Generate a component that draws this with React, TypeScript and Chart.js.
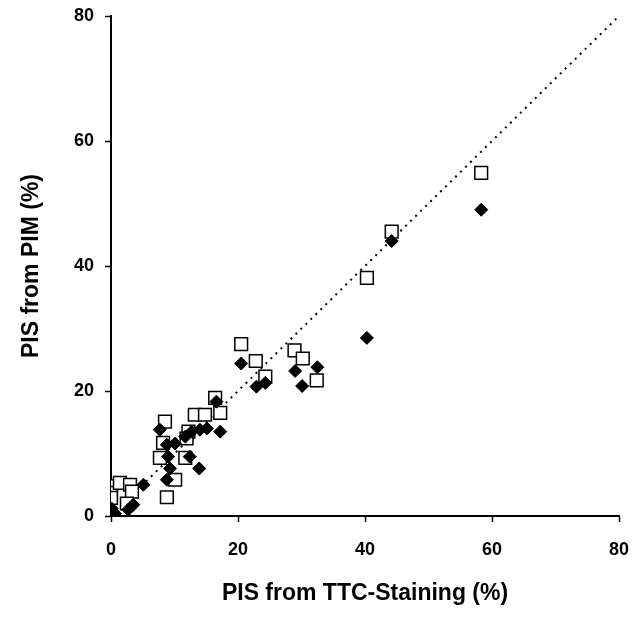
import React, { useEffect, useRef } from "react";
import Chart from "chart.js/auto";

// PIS from TTC-Staining (%) vs PIS from PIM (%)
const squareX = [0, 0, 0, 1.4, 3.0, 3.3, 2.5, 8.8, 10.1, 7.7, 11.7, 8.2, 8.5, 12.2, 11.9, 13.2, 14.8, 17.2, 16.4, 20.5, 22.8, 24.3, 28.9, 30.2, 32.4, 40.3, 44.2, 58.3];
const squareY = [4.8, 3.7, 2.9, 5.3, 5.0, 3.9, 2.0, 3.0, 5.8, 9.3, 9.3, 11.7, 15.1, 13.5, 12.4, 16.2, 16.2, 16.5, 18.9, 27.5, 24.8, 22.3, 26.5, 25.2, 21.7, 38.1, 45.5, 54.9];

const diamondX = [0.1, 0.6, 2.7, 3.5, 5.1, 8.8, 9.3, 9.0, 12.4, 13.9, 8.8, 10.1, 7.7, 11.7, 12.7, 14.0, 15.1, 17.2, 16.6, 20.5, 22.9, 24.3, 29.0, 30.1, 32.5, 40.3, 44.2, 58.3];
const diamondY = [1.2, 0.4, 1.0, 1.8, 5.0, 5.8, 7.6, 9.5, 9.5, 7.6, 11.4, 11.6, 13.8, 12.7, 13.5, 13.8, 14.0, 13.5, 18.3, 24.4, 20.7, 21.3, 23.2, 20.8, 23.8, 28.5, 44.0, 49.0];

const identityX = [0, 80];
const identityY = [0, 80];

const axisMin = 0;
const axisMax = 80;
const tickStep = 20;

const xTitle = "PIS from TTC-Staining (%)";
const yTitle = "PIS from PIM (%)";

const toPoints = (xs: number[], ys: number[]) => xs.map((x, i) => ({ x, y: ys[i] }));

export default function App() {
  const ref = useRef<HTMLCanvasElement | null>(null);

  useEffect(() => {
    document.body.style.margin = "0";
    const canvas = ref.current;
    if (!canvas) return;
    const font = "'Liberation Sans', Arial, sans-serif";
    const chart = new Chart(canvas, {
      type: "scatter",
      data: {
        datasets: [
          {
            label: "PIM diamonds",
            data: toPoints(diamondX, diamondY),
            pointStyle: "rectRot",
            pointRadius: 6.5,
            pointBackgroundColor: "#000",
            pointBorderColor: "#000",
            pointBorderWidth: 1,
            order: 0,
          },
          {
            label: "PIM squares",
            data: toPoints(squareX, squareY),
            pointStyle: "rect",
            pointRadius: 9,
            pointBackgroundColor: "#fff",
            pointBorderColor: "#000",
            pointBorderWidth: 1.5,
            order: 1,
          },
          {
            type: "line",
            label: "identity",
            data: toPoints(identityX, identityY),
            showLine: true,
            borderColor: "#000",
            borderWidth: 2,
            borderDash: [2, 5],
            pointRadius: 0,
            fill: false,
            order: 2,
          } as any,
        ],
      },
      options: {
        responsive: false,
        animation: false,
        devicePixelRatio: 1,
        layout: { padding: { left: 14, right: 13, top: 16, bottom: 8 } },
        plugins: { legend: { display: false }, tooltip: { enabled: false } },
        scales: {
          x: {
            type: "linear",
            min: axisMin,
            max: axisMax,
            ticks: { stepSize: tickStep, color: "#000", font: { family: font, size: 18, weight: "bold" }, padding: 17 },
            grid: { display: true, drawOnChartArea: false, color: "#000", tickLength: 6, tickWidth: 1.5 },
            border: { display: true, color: "#000", width: 2 },
            title: { display: true, text: xTitle, color: "#000", font: { family: font, size: 23, weight: "bold" } },
            afterFit: (s: any) => { s.height = 95; s.paddingLeft = 0; s.paddingRight = 0; },
          },
          y: {
            type: "linear",
            min: axisMin,
            max: axisMax,
            ticks: { stepSize: tickStep, color: "#000", font: { family: font, size: 18, weight: "bold" }, padding: 11 },
            grid: { display: true, drawOnChartArea: false, color: "#000", tickLength: 6, tickWidth: 1.5 },
            border: { display: true, color: "#000", width: 2 },
            title: { display: true, text: yTitle, color: "#000", font: { family: font, size: 23, weight: "bold" } },
            afterFit: (s: any) => { s.width = 97; s.paddingTop = 0; s.paddingBottom = 0; },
          },
        },
      },
    });
    return () => chart.destroy();
  }, []);

  return (
    <div style={{ position: "fixed", left: 0, top: 0, width: 632, height: 619, background: "#fff" }}>
      <canvas ref={ref} width={632} height={619} />
    </div>
  );
}
